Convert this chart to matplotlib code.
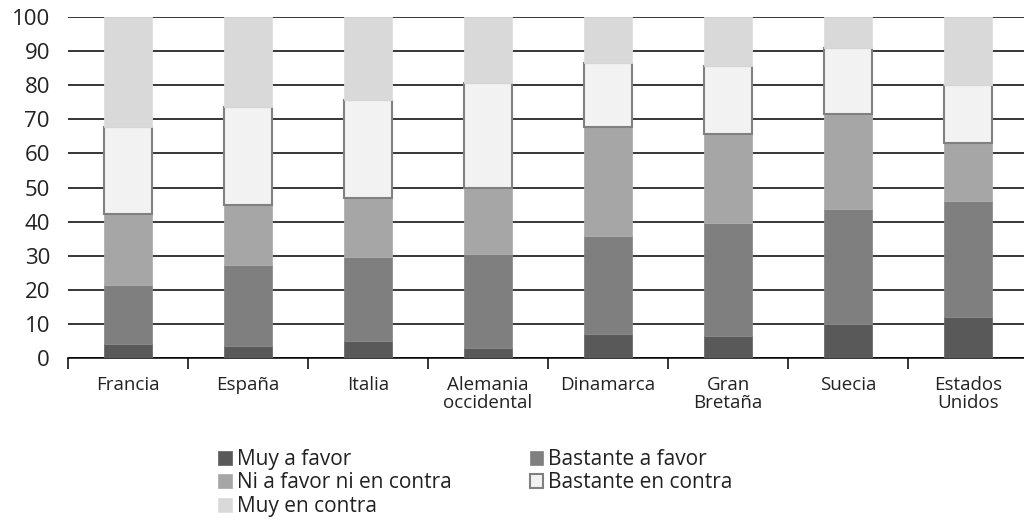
import matplotlib
matplotlib.use("Agg")
import matplotlib.pyplot as plt
import numpy as np

plt.rcParams['font.family'] = ['Open Sans', 'DejaVu Sans']

categories = ["Francia", "España", "Italia", "Alemania\noccidental", "Dinamarca",
              "Gran\nBretaña", "Suecia", "Estados\nUnidos"]
series_names = ["Muy a favor", "Bastante a favor", "Ni a favor ni en contra",
                "Bastante en contra", "Muy en contra"]
muy_a_favor = [4.1, 3.4, 5.0, 3.0, 7.0, 6.4, 10.0, 11.9]
bastante_a_favor = [17.3, 23.8, 24.7, 27.4, 28.8, 33.3, 33.6, 34.1]
ni_ni = [20.9, 17.7, 17.2, 19.4, 31.8, 26.0, 28.0, 17.1]
bastante_en_contra = [25.3, 28.7, 28.7, 30.9, 18.9, 19.8, 19.2, 16.9]
muy_en_contra = [32.4, 26.4, 24.4, 19.3, 13.5, 14.5, 9.2, 20.0]
yticks = list(range(0, 101, 10))

colors = ["#595959", "#7f7f7f", "#a6a6a6", "#f2f2f2", "#d9d9d9"]
edges = ["#6a6a6a", "#8c8c8c", "#b0b0b0", "#808080", "#dedede"]
lws = [0.6, 0.6, 0.6, 1.5, 0.6]

fig = plt.figure(figsize=(10.24, 5.22), dpi=100)
ax = fig.add_axes([68/1024, 1-358/522, 960/1024, (358-17)/522])

x = np.arange(len(categories))
bottom = np.zeros(len(categories))
handles = []
for vals, name, c, ec, lw in zip([muy_a_favor, bastante_a_favor, ni_ni, bastante_en_contra, muy_en_contra],
                                 series_names, colors, edges, lws):
    b = ax.bar(x, vals, 0.4, bottom=bottom, color=c, edgecolor=ec, linewidth=lw,
               label=name, zorder=3)
    handles.append(b)
    bottom += np.array(vals)

ax.set_xlim(-0.5, len(categories) - 0.5)
ax.set_ylim(0, 100)
ax.set_yticks(yticks)
ax.yaxis.grid(True, color="black", linewidth=1.1, zorder=0)
ax.set_axisbelow(True)
for s in ["left", "right", "top"]:
    ax.spines[s].set_visible(False)
ax.spines["bottom"].set_linewidth(1.1)
ax.spines["bottom"].set_color("black")
ax.tick_params(axis="y", length=0, labelsize=16, pad=13, labelcolor="#222222")
ax.set_yticklabels([str(t) for t in yticks])

# category labels (no ticks) and boundary ticks
ax.set_xticks(x)
ax.set_xticklabels(categories, fontsize=13.5, linespacing=1.0, color="#222222")
ax.tick_params(axis="x", which="major", length=0, pad=13)
ax.set_xticks(np.arange(-0.5, len(categories) + 0.5, 1), minor=True)
ax.tick_params(axis="x", which="minor", length=8, width=1.1, color="black")

order = [0, 2, 4, 1, 3]
leg = fig.legend([handles[i] for i in order], [series_names[i] for i in order],
                 ncol=2, loc="upper left", bbox_to_anchor=(218/1024, 1-449/522),
                 frameon=False, fontsize=15, handlelength=0.65, handleheight=0.65,
                 handletextpad=0.25, labelspacing=0.12, columnspacing=3.75,
                 borderpad=0, borderaxespad=0)
for t in leg.get_texts():
    t.set_color("#222222")

fig.savefig("out.png", dpi=100)
